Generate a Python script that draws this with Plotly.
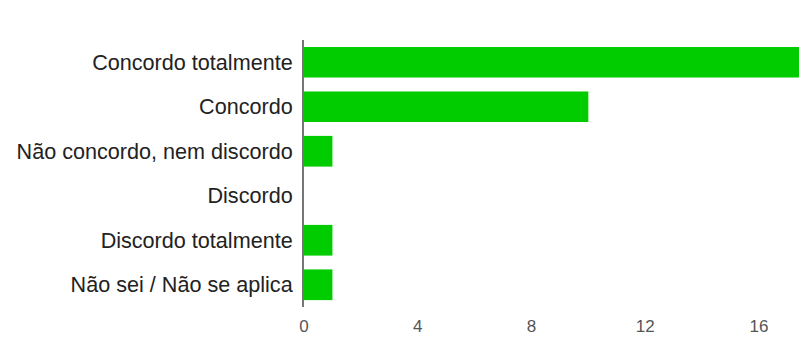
import plotly.graph_objects as go

categories = ['Concordo totalmente', 'Concordo', 'Não concordo, nem discordo',
              'Discordo', 'Discordo totalmente', 'Não sei / Não se aplica']
counts = [18, 10, 1, 0, 1, 1]
tick_vals = [0, 4, 8, 12, 16]

fig = go.Figure(
    go.Bar(
        x=counts,
        y=categories,
        orientation='h',
        marker=dict(color='#00cc00', line=dict(width=0)),
        width=0.69,
    )
)

# page body adds an 8px margin, so the figure is a bit smaller and shifted
fig.update_layout(
    width=799, height=330,
    margin=dict(l=296, r=0, t=32, b=31),
    paper_bgcolor='white', plot_bgcolor='white',
    font=dict(family='Liberation Sans, Arial, sans-serif'),
    showlegend=False,
)
fig.update_xaxes(
    range=[0, 17.69], tickvals=tick_vals, showgrid=False, zeroline=False,
    tickfont=dict(size=17, color='#555555'), ticklabelstandoff=7,
)
fig.update_yaxes(
    autorange='reversed', showline=True, linecolor='#777777', linewidth=2,
    tickfont=dict(size=21.6, color='#222222'), ticklabelstandoff=5,
)

fig.write_html('out.html')
